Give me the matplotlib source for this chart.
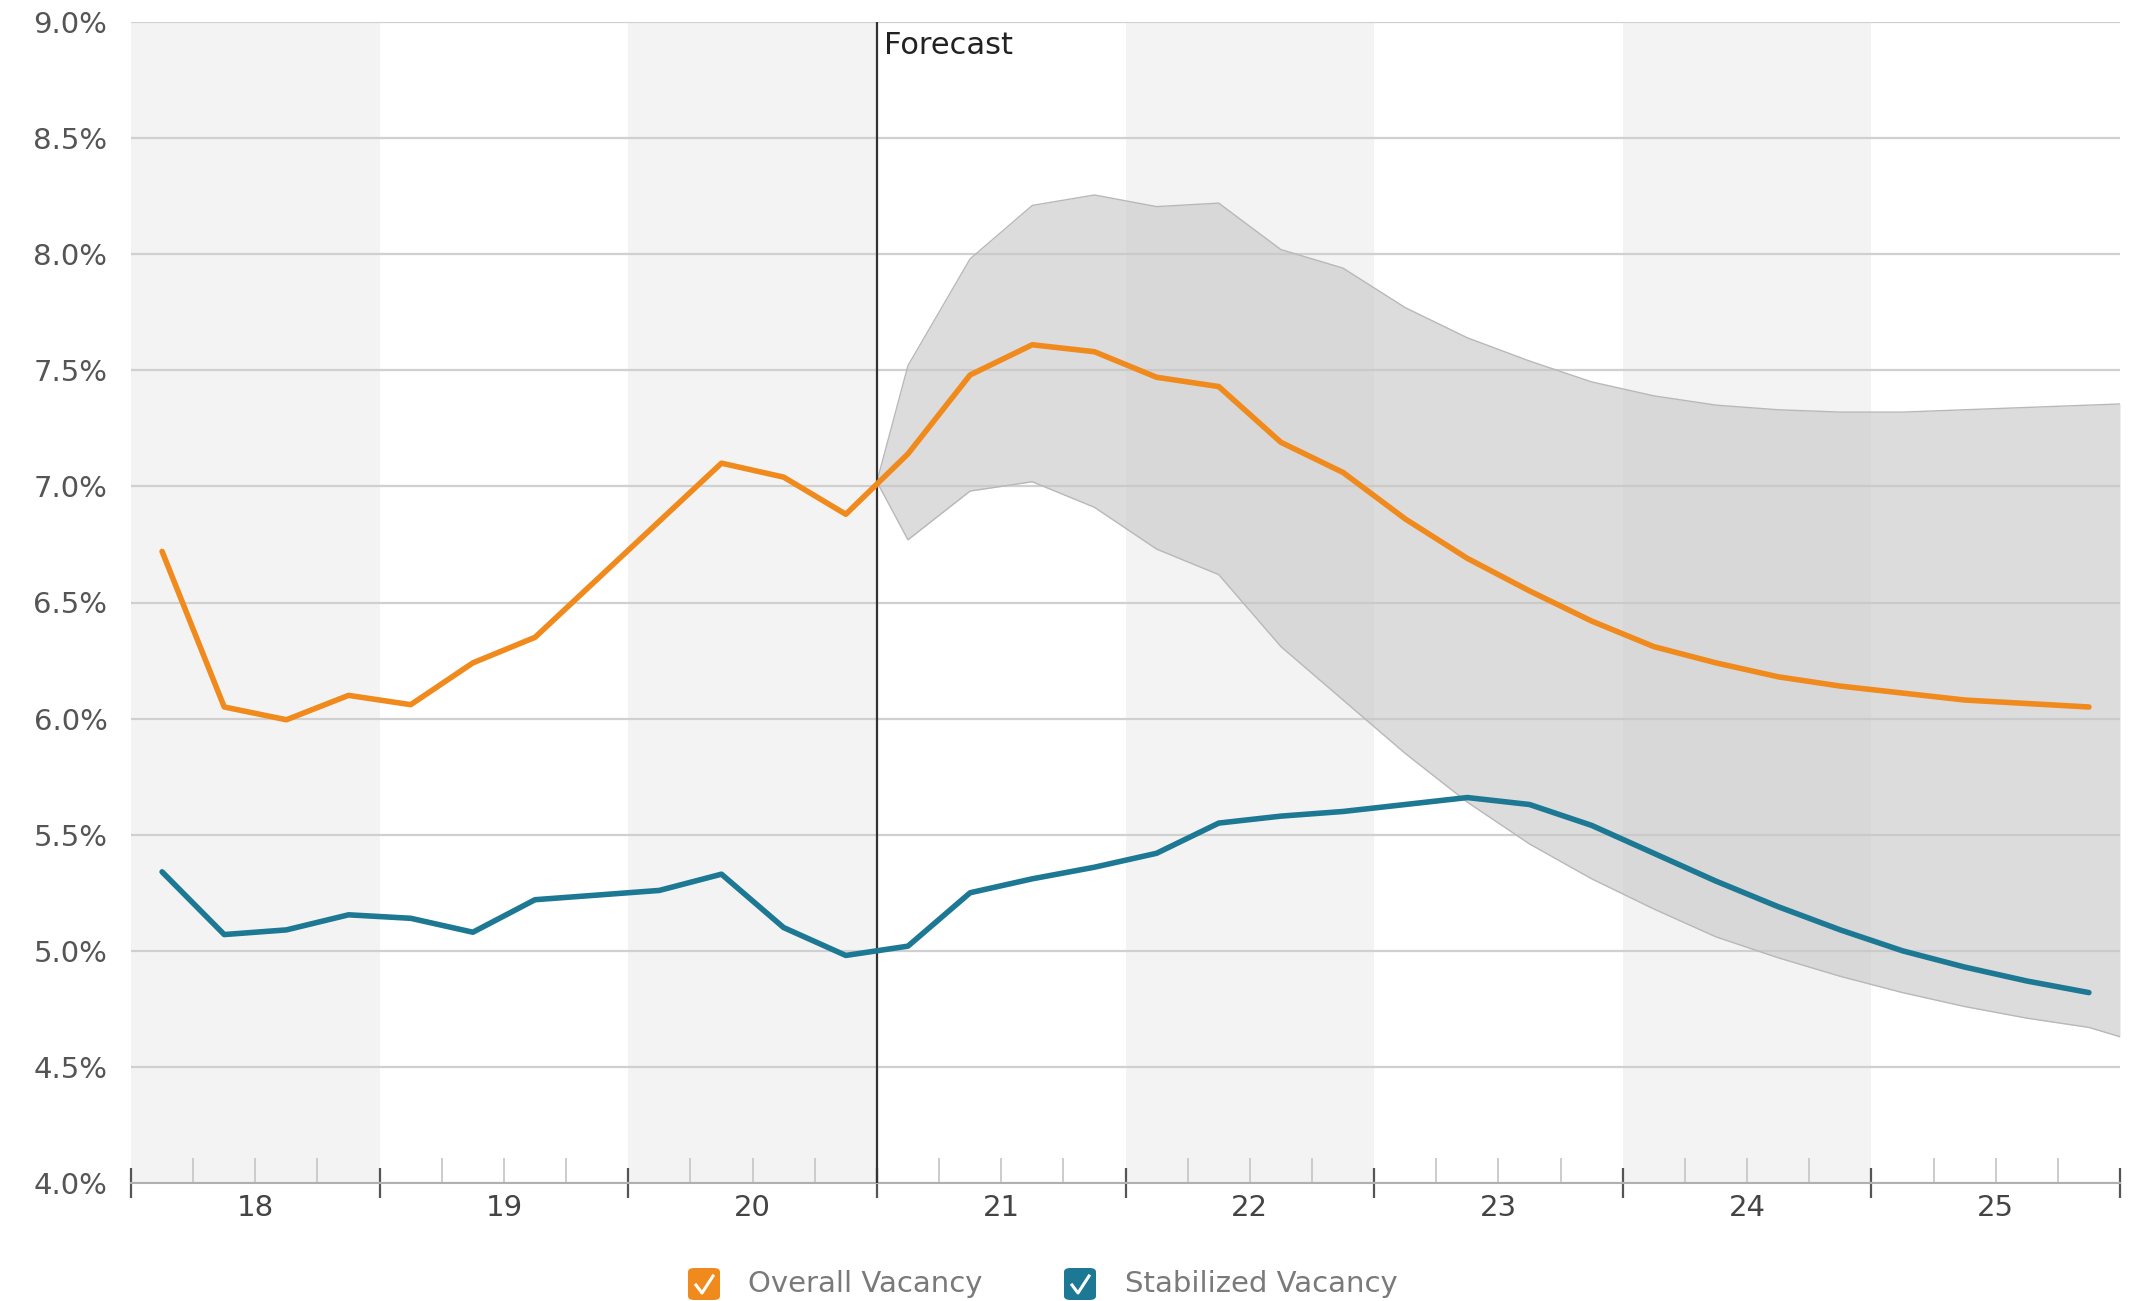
import numpy as np
import matplotlib
matplotlib.use("Agg")
import matplotlib.pyplot as plt
from matplotlib.patches import FancyBboxPatch
from matplotlib.lines import Line2D
from matplotlib.ticker import FuncFormatter, FixedLocator

plt.rcParams['font.family'] = ['DejaVu Sans']

# Quarterly series (x = year + quarter midpoint, 18 -> 2018)
hist_x = [18.125, 18.375, 18.625, 18.875, 19.125, 19.375, 19.625, 19.875,
          20.125, 20.375, 20.625, 20.875]
fc_x = [21.125, 21.375, 21.625, 21.875, 22.125, 22.375, 22.625, 22.875,
        23.125, 23.375, 23.625, 23.875, 24.125, 24.375, 24.625, 24.875,
        25.125, 25.375, 25.625, 25.875]

overall_hist = [6.72, 6.05, 5.995, 6.10, 6.06, 6.24, 6.35, 6.60,
                6.85, 7.10, 7.04, 6.88]
overall_fc = [7.14, 7.48, 7.61, 7.58, 7.47, 7.43, 7.19, 7.06,
              6.86, 6.69, 6.55, 6.42, 6.31, 6.24, 6.18, 6.14,
              6.11, 6.08, 6.065, 6.05]

stabilized_hist = [5.34, 5.07, 5.09, 5.155, 5.14, 5.08, 5.22, 5.24,
                   5.26, 5.33, 5.10, 4.98]
stabilized_fc = [5.02, 5.25, 5.31, 5.36, 5.42, 5.55, 5.58, 5.60,
                 5.63, 5.66, 5.63, 5.54, 5.42, 5.30, 5.19, 5.09,
                 5.00, 4.93, 4.87, 4.82]

# Forecast range for overall vacancy
band_x = [21.0] + fc_x + [26.0]
band_low = [7.02, 6.77, 6.98, 7.02, 6.91, 6.73, 6.62, 6.31, 6.08,
            5.85, 5.64, 5.46, 5.31, 5.18, 5.06, 4.97, 4.89,
            4.82, 4.76, 4.71, 4.67, 4.63]
band_high = [7.02, 7.52, 7.98, 8.21, 8.255, 8.205, 8.22, 8.02, 7.94,
             7.77, 7.64, 7.54, 7.45, 7.39, 7.35, 7.33, 7.32,
             7.32, 7.33, 7.34, 7.35, 7.355]

years = [18, 19, 20, 21, 22, 23, 24, 25]
year_labels = ["18", "19", "20", "21", "22", "23", "24", "25"]
shaded_years = [18, 20, 22, 24]
forecast_start = 21.0
y_ticks = [4.0, 4.5, 5.0, 5.5, 6.0, 6.5, 7.0, 7.5, 8.0, 8.5, 9.0]

ORANGE = "#f08a1d"
TEAL = "#1d7893"

W, H = 2131, 1301
fig = plt.figure(figsize=(W / 100, H / 100), dpi=100)
ax = fig.add_axes([131 / W, 1 - 1183 / H, 1989 / W, 1161 / H])
ax.set_xlim(18, 26)
ax.set_ylim(4.0, 9.0)

# alternating year shading
for yr in shaded_years:
    ax.axvspan(yr, yr + 1, color="#f3f3f3", lw=0, zorder=0)

# horizontal grid
ax.set_yticks(y_ticks)
ax.yaxis.set_major_formatter(FuncFormatter(lambda v, p: f"{v:.1f}%"))
ax.grid(axis="y", color="#d0d0d0", lw=1.6, zorder=1)
ax.set_axisbelow(True)
ax.tick_params(axis="y", length=0, pad=17, labelsize=21, labelcolor="#555555")

for s in ["top", "right", "left"]:
    ax.spines[s].set_visible(False)
ax.spines["bottom"].set_color("#b0b0b0")
ax.spines["bottom"].set_linewidth(1.5)
ax.spines["bottom"].set_zorder(1)

# year boundaries as major ticks, quarters as minor ticks
ax.xaxis.set_major_locator(FixedLocator([y for y in years] + [26]))
ax.set_xticklabels([])
quarters = [y + q for y in years for q in (0.25, 0.5, 0.75)]
ax.xaxis.set_minor_locator(FixedLocator(quarters))
ax.tick_params(axis="x", which="major", direction="inout", length=22,
               width=1.6, color="#555555")
ax.tick_params(axis="x", which="minor", direction="in", length=18,
               width=1.3, color="#c8c8c8")
for yr, lab in zip(years, year_labels):
    ax.text(yr + 0.5, -0.0215, lab, transform=ax.get_xaxis_transform(),
            ha="center", va="center", fontsize=21, color="#444444")

# forecast range
ax.fill_between(band_x, band_low, band_high, color="#c6c6c6", alpha=0.6,
                lw=0, zorder=2)
ax.plot(band_x, band_high, color="#b8b8b8", lw=1.0, zorder=2)
ax.plot(band_x, band_low, color="#b8b8b8", lw=1.0, zorder=2)

# forecast divider
ax.axvline(forecast_start, color="#333333", lw=1.6, zorder=3)
ax.text(forecast_start + 0.028, 8.9, "Forecast", fontsize=22, color="#222222",
        ha="left", va="center", zorder=6)

# series
ax.plot(hist_x + fc_x, overall_hist + overall_fc, color=ORANGE, lw=4.0,
        solid_joinstyle="round", solid_capstyle="round", zorder=4)
ax.plot(hist_x + fc_x, stabilized_hist + stabilized_fc, color=TEAL, lw=4.0,
        solid_joinstyle="round", solid_capstyle="round", zorder=4)

# legend with checkbox markers along the bottom edge
LEG_TOP = 1268
LEG_BASE = 1292

def checkbox(x0, color):
    size = 32
    box = FancyBboxPatch((x0 / W, 1 - (LEG_TOP + size) / H), size / W, size / H,
                         boxstyle="round,pad=0,rounding_size=0.003",
                         transform=fig.transFigure, facecolor=color,
                         edgecolor="none")
    fig.patches.append(box)
    px = [x0 + 8, x0 + 14, x0 + 25]
    py = [LEG_TOP + 17, LEG_TOP + 25, LEG_TOP + 8]
    fig.lines.append(Line2D([p / W for p in px], [1 - p / H for p in py],
                            transform=fig.transFigure, color="white", lw=2.2))

checkbox(688, ORANGE)
fig.text(748 / W, 1 - LEG_BASE / H, "Overall Vacancy", fontsize=21,
         color="#7a7a7a", ha="left", va="baseline")
checkbox(1064, TEAL)
fig.text(1125 / W, 1 - LEG_BASE / H, "Stabilized Vacancy", fontsize=21,
         color="#7a7a7a", ha="left", va="baseline")

fig.savefig("out.png", dpi=100)
